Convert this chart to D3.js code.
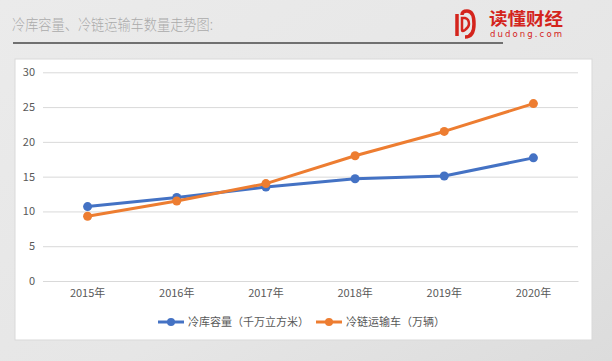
<!DOCTYPE html>
<html><head><meta charset="utf-8">
<script src="https://cdn.jsdelivr.net/npm/d3@7"></script>
<style>html,body{margin:0;padding:0;background:#e9e9e9;}svg{display:block;}</style>
</head><body>
<svg id="c" width="612" height="361"></svg>
<script>
const categories = ["2015年","2016年","2017年","2018年","2019年","2020年"];
const coldStorage = [10.7, 12.0, 13.5, 14.7, 15.1, 17.7];
const coldTrucks = [9.3, 11.5, 14.0, 18.0, 21.5, 25.5];
const seriesNames = ["冷库容量（千万立方米）","冷链运输车（万辆）"];
const yTicks = [0,5,10,15,20,25,30];
const title = "冷库容量、冷链运输车数量走势图:";

const svg = d3.select("#c");
const font = "'Noto Sans CJK SC', 'Noto Sans', sans-serif";

// background
const defs = svg.append("defs");
const g = defs.append("linearGradient").attr("id","bg").attr("x1",0).attr("x2",1).attr("y1",0).attr("y2",1);
g.append("stop").attr("offset","0%").attr("stop-color","#ebebeb");
g.append("stop").attr("offset","60%").attr("stop-color","#e6e6e6");
g.append("stop").attr("offset","100%").attr("stop-color","#dcdcdc");
svg.append("rect").attr("width",612).attr("height",361).attr("fill","url(#bg)");

// title
svg.append("text").attr("x",12).attr("y",30).text(title)
  .attr("font-family",font).attr("font-size",15).attr("font-weight",300)
  .attr("textLength",201).attr("lengthAdjust","spacingAndGlyphs").attr("fill","#ababab");
svg.append("line").attr("x1",13).attr("x2",503).attr("y1",43).attr("y2",43)
  .attr("stroke","#707070").attr("stroke-width",2);

// logo
const logo = svg.append("g");
logo.append("path").attr("d","M457,14 L457,36 M462,15 Q462,11 467,11 Q474,11 474,24 Q474,37 465,37")
  .attr("fill","none").attr("stroke","#d4241c").attr("stroke-width",3.5);
logo.append("path").attr("d","M462,18 L462,30 Q462,32 465,30 Q469,27 469,24 Q469,19 465,18 Z")
  .attr("fill","none").attr("stroke","#d4241c").attr("stroke-width",2.5);
logo.append("text").attr("x",489).attr("y",25).text("读懂财经")
  .attr("font-family",font).attr("font-size",17).attr("font-weight","bold")
  .attr("textLength",74).attr("lengthAdjust","spacingAndGlyphs").attr("fill","#d4241c");
logo.append("text").attr("x",490).attr("y",37).text("dudong.com")
  .attr("font-family","'DejaVu Sans', sans-serif").attr("font-size",8.5)
  .attr("textLength",72).attr("lengthAdjust","spacing").attr("fill","#d4241c");

// chart box
svg.append("rect").attr("x",15).attr("y",59).attr("width",577).attr("height",281)
  .attr("fill","#ffffff").attr("stroke","#d9d9d9").attr("stroke-width",1);

const x = d3.scaleBand().domain(categories).range([43,578]);
const y = d3.scaleLinear().domain([0,30]).range([281,72.3]);

const yAxis = svg.append("g").attr("transform","translate(43,0)")
  .call(d3.axisLeft(y).tickValues(yTicks).tickSize(-535).tickPadding(8));
yAxis.select(".domain").remove();
yAxis.selectAll(".tick line").attr("stroke","#d9d9d9");
yAxis.selectAll(".tick text").attr("fill","#595959").attr("font-size",11).attr("font-family",font);

const xAxis = svg.append("g").attr("transform","translate(0,281)")
  .call(d3.axisBottom(x).tickSize(0).tickPadding(8));
xAxis.select(".domain").attr("stroke","#d9d9d9");
xAxis.selectAll(".tick text").attr("fill","#595959").attr("font-size",11).attr("font-family",font);

const colors = ["#4472c4","#ed7d31"];
const series = [coldStorage, coldTrucks];
const line = d3.line().x((d,i)=>x(categories[i])+x.bandwidth()/2).y(d=>y(d));
series.forEach((s,k)=>{
  svg.append("path").datum(s).attr("d",line).attr("fill","none")
    .attr("stroke",colors[k]).attr("stroke-width",3).attr("stroke-linejoin","round").attr("stroke-linecap","round");
  svg.selectAll(null).data(s).enter().append("circle")
    .attr("cx",(d,i)=>x(categories[i])+x.bandwidth()/2).attr("cy",d=>y(d)).attr("r",4.5).attr("fill",colors[k]);
});

// legend
const legendX = [158, 316];
series.forEach((s,k)=>{
  const lg = svg.append("g").attr("transform",`translate(${legendX[k]},322)`);
  lg.append("line").attr("x1",0).attr("x2",26).attr("stroke",colors[k]).attr("stroke-width",3);
  lg.append("circle").attr("cx",13).attr("r",4).attr("fill",colors[k]);
  lg.append("text").attr("x",30).attr("y",4).text(seriesNames[k])
    .attr("font-family",font).attr("font-size",11).attr("fill","#595959");
});
</script>
</body></html>
